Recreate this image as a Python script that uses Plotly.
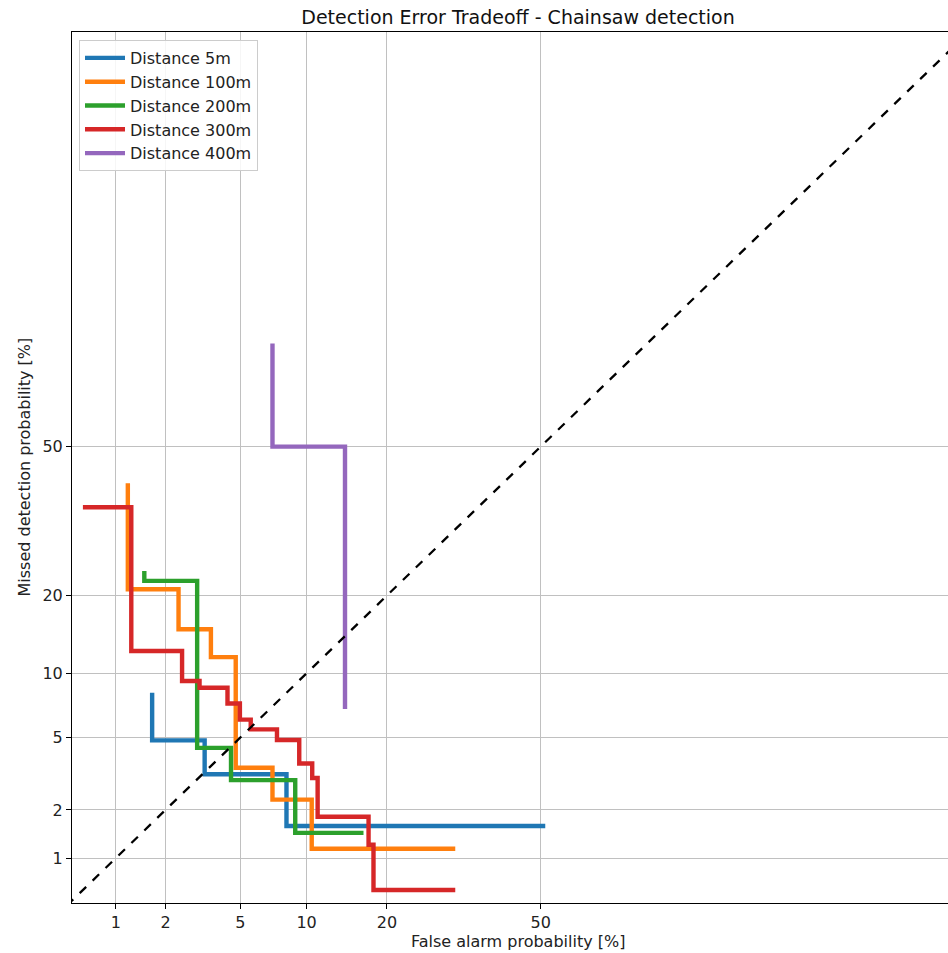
import plotly.graph_objects as go
from statistics import NormalDist

# ---- data (percent) ----
TICKS = [1, 2, 5, 10, 20, 50]
TICK_LABELS = ["1", "2", "5", "10", "20", "50"]

names = ["Distance 5m", "Distance 100m", "Distance 200m", "Distance 300m", "Distance 400m"]
colors = ["#1f77b4", "#ff7f0e", "#2ca02c", "#d62728", "#9467bd"]

fpr_5m = [1.67, 3.29, 8.2, 51.0]
fnr_5m = [8.2, 4.84, 3.2, 1.6]

fpr_100m = [1.19, 2.37, 3.55, 4.75, 7.1, 10.5, 32.0]
fnr_100m = [41.8, 21.0, 15.1, 11.7, 3.47, 2.3, 1.15]

fpr_200m = [1.5, 3.0, 4.5, 8.95, 16.6]
fnr_200m = [24.1, 22.4, 4.43, 2.97, 1.45]

fpr_300m = [0.61, 1.25, 2.48, 3.09, 4.32, 4.98, 5.62, 7.44, 9.31, 10.55, 11.1, 17.3, 18.0, 32.0]
fnr_300m = [36.6, 36.6, 12.4, 9.26, 8.64, 7.32, 6.14, 5.5, 4.86, 3.66, 3.05, 1.82, 1.22, 0.61]

fpr_400m = [7.1, 14.2, 14.2]
fnr_400m = [72.0, 50.0, 6.9]

diag = [0.1, 99.9]

series = [(fpr_5m, fnr_5m), (fpr_100m, fnr_100m), (fpr_200m, fnr_200m),
          (fpr_300m, fnr_300m), (fpr_400m, fnr_400m)]

nd = NormalDist()
def probit(vals):
    return [nd.inv_cdf(v / 100.0) for v in vals]

FONT = "DejaVu Sans"
fig = go.Figure()

for name, col, (fx, fy) in zip(names, colors, series):
    fig.add_trace(go.Scatter(x=probit(fx), y=probit(fy), mode="lines", name=name,
                             line=dict(color=col, width=4.4, shape="vh")))

fig.add_trace(go.Scatter(x=probit(diag), y=probit(diag), mode="lines",
                         line=dict(color="black", width=2.3, dash="dash"),
                         showlegend=False, hoverinfo="skip"))

W, H = 948, 953
L, R, T, B = 72, 0, 32, 50
PW, PH = W - L - R, H - T - B

axis_common = dict(
    tickvals=probit(TICKS), ticktext=TICK_LABELS,
    showgrid=True, gridcolor="#c0c0c0", gridwidth=1.4,
    zeroline=False, showline=True, linecolor="black", linewidth=1.1,
    ticks="outside", ticklen=5, tickwidth=1.1, tickcolor="black",
    tickfont=dict(family=FONT, size=16, color="#222222"),
)

fig.update_layout(
    width=W, height=H,
    margin=dict(l=L, r=R, t=T, b=B, autoexpand=False),
    paper_bgcolor="white", plot_bgcolor="white",
    font=dict(family=FONT, size=16, color="#222222"),
    title=dict(text="Detection Error Tradeoff - Chainsaw detection",
               font=dict(family=FONT, size=19, color="#111111"),
               xref="container", x=518 / W, xanchor="center",
               yref="container", y=1 - 17 / H, yanchor="middle"),
    xaxis=dict(range=[-2.566, 2.23], mirror=True, **axis_common),
    yaxis=dict(range=[-2.58, 2.344], mirror=False, **axis_common),
    legend=dict(x=(79 - L) / PW, y=(H - B - 40) / PH, xanchor="left", yanchor="top",
                itemwidth=40,
                bgcolor="rgba(255,255,255,0.85)", bordercolor="#cccccc", borderwidth=1,
                font=dict(family=FONT, size=16, color="#222222")),
    showlegend=True,
    annotations=[
        dict(text="False alarm probability [%]", xref="paper", yref="paper",
             x=(518 - L) / PW, y=-(942 - (H - B)) / PH, xanchor="center", yanchor="middle",
             showarrow=False, font=dict(family=FONT, size=16, color="#222222")),
        dict(text="Missed detection probability [%]", xref="paper", yref="paper",
             x=-(L - 24) / PW, y=0.5, xanchor="center", yanchor="middle", textangle=-90,
             showarrow=False, font=dict(family=FONT, size=16, color="#222222")),
    ],
)

fig.write_html("out.html", config={"displayModeBar": False},
               post_script="document.body.style.margin='0';document.body.style.overflow='hidden';")
